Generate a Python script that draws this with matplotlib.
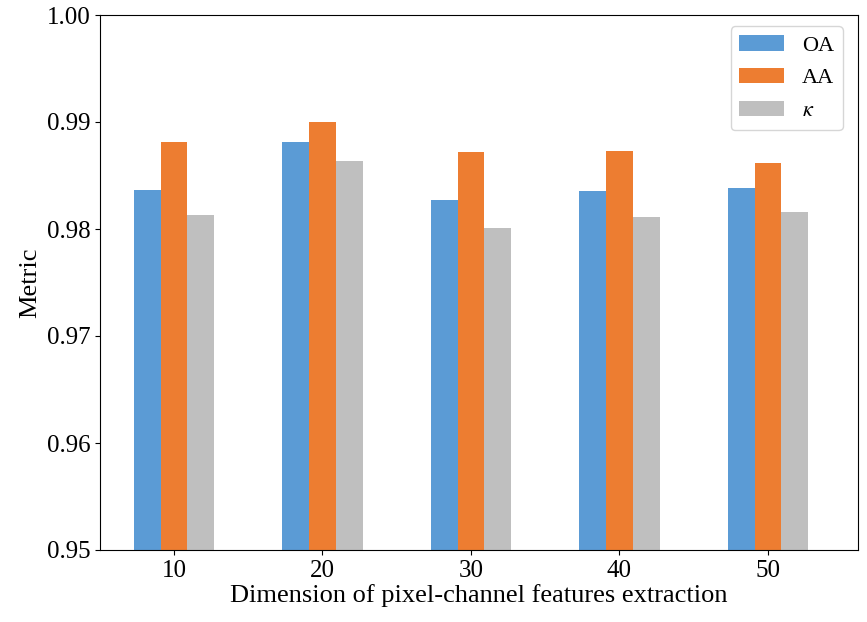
import numpy as np
import matplotlib
matplotlib.use('Agg')
from matplotlib import pyplot as plt

plt.rcParams['font.family'] = ['Liberation Serif', 'DejaVu Serif']
plt.rcParams['mathtext.fontset'] = 'stix'

dims = ['10', '20', '30', '40', '50']
oa = [0.98367, 0.98813, 0.98271, 0.98358, 0.98386]
aa = [0.98813, 0.98997, 0.98717, 0.98726, 0.98617]
kappa = [0.98128, 0.98636, 0.98009, 0.98115, 0.98156]

x = np.arange(len(dims))
w = 0.18

fig = plt.figure(figsize=(8.67, 6.22), dpi=100)
ax = fig.add_axes([100/867, 1-550/622, (858-100)/867, (550-15)/622])

ax.bar(x - w, oa, w, color='#5B9BD5', label='OA')
ax.bar(x, aa, w, color='#ED7D31', label='AA')
ax.bar(x + w, kappa, w, color='#BFBFBF', label=r'$\kappa$')

ax.set_ylim(0.95, 1.00)
ax.set_yticks([0.95, 0.96, 0.97, 0.98, 0.99, 1.00])
ax.set_yticklabels(['0.95', '0.96', '0.97', '0.98', '0.99', '1.00'])
ax.set_xlim(-0.498, 4.606)
ax.set_xticks(x)
ax.set_xticklabels(dims)
ax.tick_params(labelsize=18)

ax.set_xlabel('Dimension of pixel-channel features extraction', fontsize=19, labelpad=2)
ax.set_ylabel('Metric', fontsize=19)
ax.legend(loc='upper right', bbox_to_anchor=(0.980, 0.979), borderaxespad=0,
          fontsize=16, labelspacing=0.55)

plt.savefig('out.png', dpi=100)
